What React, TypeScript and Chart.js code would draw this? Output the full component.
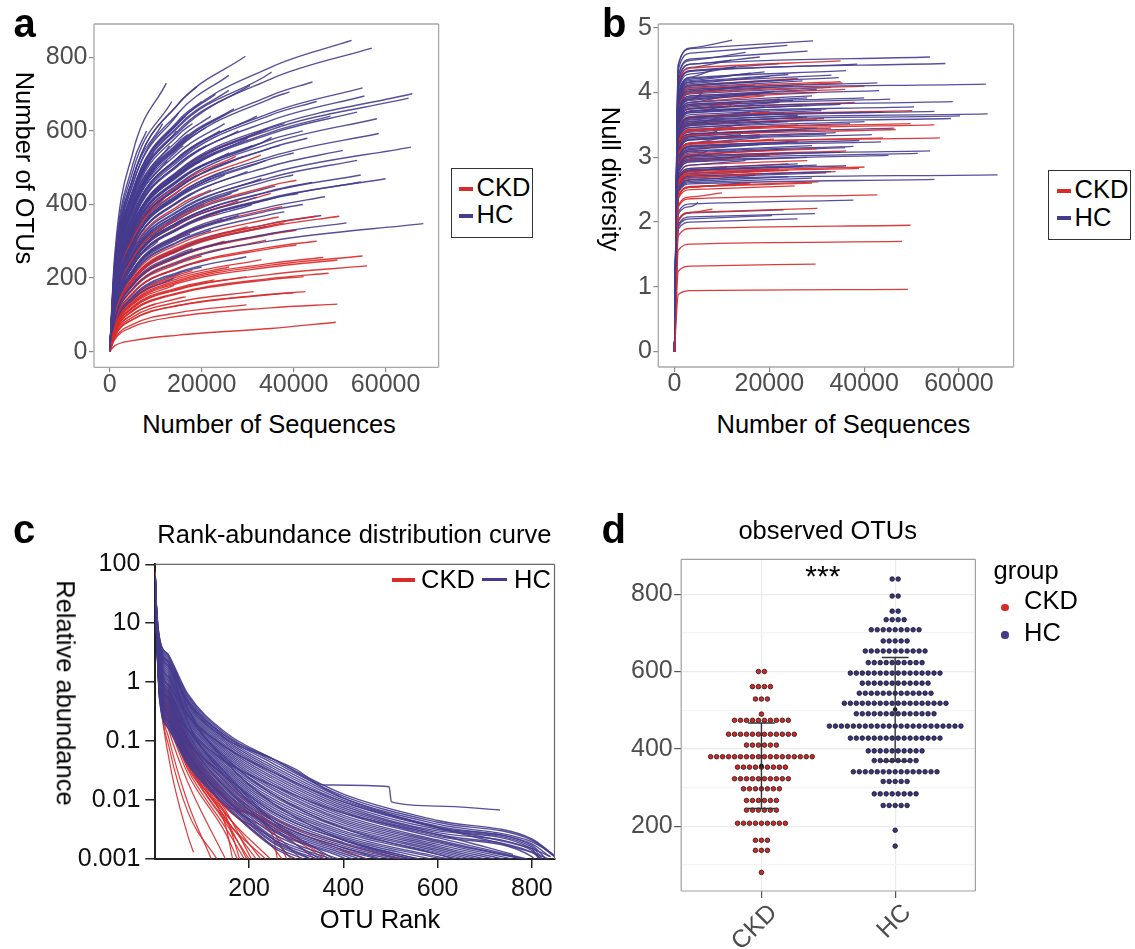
import React, { useEffect, useRef } from "react";
import { Chart, registerables } from "chart.js";

Chart.register(...registerables);

const FONT = "'Liberation Sans', Arial, Helvetica, sans-serif";
const RED = "#da2b2b";
const BLUE = "#453c8e";
const RED_LINE = "rgba(218,43,43,0.92)";
const BLUE_LINE = "rgba(69,60,142,0.9)";
const AXIS_TEXT = "#4d4d4d";

// ---------------- Panel a : rarefaction, Number of OTUs ----------------
const A_ORIGIN = [0, 0];
const A_KNOTS = [1000, 5000, 15000, 35000];
const A_X_TICKS = [0, 20000, 40000, 60000];
const A_Y_TICKS = [0, 200, 400, 600, 800];
// [end sequences, end OTUs, OTUs at knots below the end ...]
const A_HC = [
  [12300, 730, 247, 540], [29500, 803, 215, 470, 674], [52600, 846, 199, 435, 623, 773],
  [57000, 825, 191, 417, 597, 741], [44100, 733, 179, 391, 560, 696], [55000, 717, 167, 365, 523, 649],
  [65800, 701, 158, 344, 493, 611], [65000, 689, 155, 339, 485, 603], [55400, 695, 162, 353, 506, 628],
  [53800, 651, 153, 333, 477, 592], [58100, 633, 146, 319, 456, 566], [58500, 593, 137, 298, 427, 530],
  [65500, 556, 125, 273, 391, 485], [50700, 547, 130, 283, 406, 504], [53800, 520, 122, 266, 381, 473],
  [54600, 480, 112, 245, 351, 435], [60000, 470, 108, 235, 337, 418], [54600, 461, 104, 232, 334, 416],
  [46800, 421, 102, 222, 318, 394], [68200, 348, 78, 170, 243, 301], [51500, 350, 83, 181, 259, 321],
  [39900, 480, 120, 262, 375, 466], [35200, 583, 150, 328, 469, 581], [35200, 760, 196, 427, 611, 758],
  [25900, 751, 208, 454, 650], [39100, 706, 177, 387, 554, 688], [30500, 724, 193, 421, 602],
  [25900, 710, 197, 429, 615], [20000, 680, 201, 439, 629], [22000, 640, 185, 403, 577],
  [18000, 620, 189, 412, 590], [27000, 660, 181, 395, 566], [32000, 640, 168, 368, 527],
  [24000, 600, 169, 370, 529], [16000, 560, 176, 384, 550], [30000, 580, 155, 338, 484],
  [38000, 620, 157, 342, 490, 608], [42000, 600, 148, 324, 464, 576], [20000, 520, 154, 336, 481],
  [26000, 540, 149, 326, 467], [34000, 520, 135, 294, 422], [14000, 480, 157, 342],
  [22000, 470, 136, 296, 424], [30000, 490, 131, 286, 409], [40000, 540, 135, 295, 422, 524],
  [18000, 430, 131, 286, 409], [28000, 440, 120, 261, 374], [36000, 450, 115, 252, 360, 447],
  [44000, 460, 113, 246, 352, 437], [12000, 420, 143, 313], [24000, 400, 113, 246, 353],
  [32000, 420, 111, 241, 346], [42000, 400, 99, 216, 309, 384], [16000, 360, 113, 247, 354],
  [28000, 370, 101, 219, 314], [38000, 380, 96, 210, 300, 373], [46000, 370, 90, 196, 280, 348],
  [22000, 330, 95, 208, 298], [34000, 340, 88, 193, 276], [29700, 258, 69, 151, 216],
  [18000, 280, 85, 186, 266], [26000, 300, 83, 181, 260], [10000, 500, 180, 394],
  [8000, 600, 233, 508], [15000, 650, 208, 454], [45000, 680, 166, 361, 518, 643],
  [40000, 330, 83, 180, 258, 320], [20000, 230, 68, 148, 213], [14000, 200, 65, 142],
  [9000, 380, 142, 310], [11000, 450, 158, 344], [6000, 300, 128, 280],
  [17000, 500, 155, 337, 483], [21000, 560, 164, 357, 511], [25000, 480, 134, 293, 419],
  [13000, 560, 187, 407], [9500, 540, 198, 432], [11500, 620, 214, 468], [13500, 680, 224, 489],
  [19000, 720, 216, 471, 675], [23000, 700, 200, 436, 624], [17000, 590, 182, 398, 570],
  [21000, 610, 178, 389, 557], [25000, 620, 173, 378, 541], [28000, 600, 163, 356, 510],
  [31000, 560, 149, 324, 464], [19000, 480, 144, 314, 450], [23000, 540, 154, 336, 482],
  [27000, 500, 137, 299, 429], [33000, 470, 123, 268, 384], [15500, 440, 139, 304, 436],
  [20500, 400, 118, 257, 367], [26500, 430, 118, 258, 370], [31000, 400, 106, 232, 332],
  [13000, 350, 117, 255], [17500, 320, 98, 214, 307], [24500, 360, 101, 221, 316],
  [36500, 420, 107, 234, 335, 416], [10500, 300, 107, 233], [15000, 260, 83, 182],
  [21500, 250, 73, 158, 227], [7000, 450, 183, 398], [5500, 380, 168, 367],
  [12500, 520, 175, 383], [16500, 640, 199, 435, 623], [14500, 600, 194, 423],
  [22500, 520, 149, 326, 466], [29000, 530, 143, 312, 446], [37000, 560, 143, 311, 445, 553],
  [43000, 580, 143, 311, 446, 554], [48000, 640, 154, 335, 480, 596], [41000, 430, 107, 233, 334, 415],
  [33000, 600, 157, 342, 490], [26000, 650, 180, 393, 562], [18500, 560, 169, 369, 529],
  [8500, 420, 160, 348],
];
const A_CKD = [
  [49150, 80, 15, 30, 45, 63], [49540, 129, 31, 67, 96, 119], [55980, 233, 54, 118, 169, 210],
  [54980, 260, 61, 132, 190, 235], [47600, 213, 51, 112, 160, 199], [42560, 163, 40, 88, 126, 156],
  [39850, 160, 40, 87, 125, 155], [42170, 204, 50, 110, 158, 196], [49540, 249, 59, 130, 186, 230],
  [46430, 256, 62, 135, 194, 240], [49930, 368, 88, 191, 274, 340], [44890, 368, 90, 196, 280, 348],
  [40610, 330, 82, 179, 257, 319], [40610, 290, 72, 158, 226, 280], [40610, 466, 116, 253, 363, 451],
  [34410, 606, 157, 342, 490], [32850, 534, 140, 305, 437], [29740, 127, 34, 74, 106],
  [31300, 163, 43, 94, 135], [29740, 204, 55, 119, 171], [27400, 531, 145, 317, 453],
  [16540, 149, 46, 101, 145], [22760, 195, 56, 122, 174], [37500, 394, 100, 218, 312, 388],
  [34000, 303, 79, 172, 246], [36740, 366, 93, 204, 292, 362], [20000, 260, 77, 168, 240],
  [25000, 300, 84, 183, 262], [30000, 340, 91, 198, 284], [18000, 220, 67, 146, 209],
  [28000, 410, 111, 243, 348], [35000, 430, 111, 242, 346], [24000, 380, 107, 234, 335],
  [14000, 180, 59, 128], [12000, 150, 51, 112], [26000, 230, 64, 139, 199],
  [33000, 250, 65, 143, 204], [38000, 350, 89, 193, 277, 343], [10000, 130, 47, 102],
  [22000, 440, 127, 277, 397], [16000, 280, 88, 192, 275], [45000, 300, 73, 159, 228, 284],
];

// ---------------- Panel b : Null diversity ----------------
const B_ORIGIN = [0, 0];
const B_KNOTS = [800, 3500];
const B_Y_TICKS = [0, 1, 2, 3, 4, 5];
// [end sequences, end diversity, diversity at 800, diversity at 3500]
const B_HC = [
  [12170, 4.81, 4.43, 4.69], [29220, 4.8, 4.42, 4.68], [23800, 4.73, 4.35, 4.61], [28060, 4.64, 4.27, 4.52],
  [53880, 4.55, 4.19, 4.44], [57130, 4.45, 4.09, 4.34], [38530, 4.44, 4.08, 4.33], [36200, 4.34, 3.99, 4.23],
  [65660, 4.13, 3.8, 4.03], [42790, 4.15, 3.82, 4.05], [43180, 4.03, 3.71, 3.93], [66050, 3.67, 3.38, 3.58],
  [58680, 3.86, 3.55, 3.76], [60230, 3.64, 3.35, 3.55], [54810, 3.71, 3.41, 3.62], [50540, 3.78, 3.48, 3.69],
  [58300, 3.6, 3.31, 3.51], [45500, 3.9, 3.59, 3.8], [51320, 3.06, 2.82, 2.98], [53880, 3.1, 2.85, 3.02],
  [45120, 3.03, 2.79, 2.95], [68140, 2.73, 2.51, 2.66], [54810, 2.66, 2.45, 2.59], [37750, 2.34, 2.15, 2.28],
  [23020, 2.19, 2.01, 2.14], [29610, 2.13, 1.96, 2.08], [25970, 2.05, 1.89, 2.0], [20540, 2.1, 1.93, 2.05],
  [46280, 3.45, 3.17, 3.36], [41630, 3.35, 3.08, 3.27], [43570, 3.24, 2.98, 3.16], [37750, 3.17, 2.92, 3.09],
  [36200, 2.87, 2.64, 2.8], [40080, 3.55, 3.27, 3.46], [33100, 4.27, 3.93, 4.16], [34650, 4.23, 3.89, 4.12],
  [20000, 4.25, 3.91, 4.14], [25000, 4.2, 3.86, 4.1], [15000, 4.1, 3.77, 4.0], [30000, 4.05, 3.73, 3.95],
  [18000, 3.98, 3.66, 3.88], [28000, 3.92, 3.61, 3.82], [22000, 3.85, 3.54, 3.75], [12000, 3.8, 3.5, 3.71],
  [32000, 3.75, 3.45, 3.66], [16000, 3.7, 3.4, 3.61], [26000, 3.65, 3.36, 3.56], [24000, 3.55, 3.27, 3.46],
  [14000, 3.5, 3.22, 3.41], [30000, 3.45, 3.17, 3.36], [20000, 3.4, 3.13, 3.32], [34000, 3.38, 3.11, 3.3],
  [10000, 3.3, 3.04, 3.22], [26000, 3.25, 2.99, 3.17], [18000, 3.2, 2.94, 3.12], [36000, 3.15, 2.9, 3.07],
  [22000, 3.12, 2.87, 3.04], [28000, 3.0, 2.76, 2.93], [15000, 2.95, 2.71, 2.88], [26000, 2.9, 2.67, 2.83],
  [30000, 2.88, 2.65, 2.81], [20000, 2.8, 2.58, 2.73], [32000, 2.76, 2.54, 2.69], [24000, 2.7, 2.48, 2.63],
  [14000, 2.6, 2.39, 2.54], [8000, 4.35, 4.0, 4.24], [12000, 4.5, 4.14, 4.39], [6000, 4.0, 3.68, 3.9],
  [9000, 3.6, 3.31, 3.51], [7000, 3.1, 2.85, 3.02], [5000, 2.3, 2.12, 2.24], [11000, 2.85, 2.62, 2.78],
  [16000, 4.3, 3.96, 4.19], [20000, 4.0, 3.68, 3.9], [27000, 3.8, 3.5, 3.71], [14000, 3.35, 3.08, 3.27],
  [19000, 4.32, 3.97, 4.21], [24000, 4.28, 3.94, 4.17], [27000, 4.18, 3.85, 4.08], [17000, 4.12, 3.79, 4.02],
  [33000, 4.08, 3.75, 3.98], [21000, 4.02, 3.7, 3.92], [29000, 3.95, 3.63, 3.85], [25000, 3.88, 3.57, 3.78],
  [35000, 3.82, 3.51, 3.72], [19000, 3.78, 3.48, 3.69], [31000, 3.72, 3.42, 3.63], [23000, 3.68, 3.39, 3.59],
  [28000, 3.62, 3.33, 3.53], [16000, 3.58, 3.29, 3.49], [37000, 3.52, 3.24, 3.43], [21000, 3.48, 3.2, 3.39],
  [26000, 3.42, 3.15, 3.33], [32000, 3.36, 3.09, 3.28], [18000, 3.3, 3.04, 3.22], [24000, 3.22, 2.96, 3.14],
  [29000, 3.18, 2.93, 3.1], [35000, 3.08, 2.83, 3.0], [20000, 3.04, 2.8, 2.96], [27000, 2.86, 2.63, 2.79],
  [22000, 2.82, 2.59, 2.75], [33000, 2.78, 2.56, 2.71], [17000, 2.72, 2.5, 2.65], [29000, 2.68, 2.47, 2.61],
  [13000, 4.4, 4.05, 4.29], [22000, 4.45, 4.09, 4.34], [18000, 4.55, 4.19, 4.44], [15000, 4.62, 4.25, 4.5],
  [40000, 3.92, 3.61, 3.82], [44000, 3.7, 3.4, 3.61], [39000, 3.26, 3.0, 3.18], [11000, 3.95, 3.63, 3.85],
  [9000, 3.4, 3.13, 3.32], [13000, 3.1, 2.85, 3.02], [25000, 4.1, 3.77, 4.0], [30000, 3.58, 3.29, 3.49],
];
const B_CKD = [
  [49220, 0.96, 0.88, 0.94], [47980, 1.7, 1.56, 1.66], [49770, 1.95, 1.79, 1.9], [29770, 1.35, 1.24, 1.32],
  [42790, 2.42, 2.23, 2.36], [30150, 2.21, 2.03, 2.15], [30390, 2.62, 2.41, 2.55], [38910, 2.83, 2.6, 2.76],
  [40080, 2.85, 2.62, 2.78], [55970, 3.3, 3.04, 3.22], [54810, 3.5, 3.22, 3.41], [46660, 3.43, 3.16, 3.34],
  [49770, 3.52, 3.24, 3.43], [50150, 3.72, 3.42, 3.63], [25350, 2.56, 2.36, 2.5], [40080, 4.1, 3.77, 4.0],
  [35430, 4.15, 3.82, 4.05], [35040, 4.49, 4.13, 4.38], [30000, 3.13, 2.88, 3.05], [31550, 3.6, 3.31, 3.51],
  [43950, 3.3, 3.04, 3.22], [35040, 4.17, 3.84, 4.07], [22250, 3.9, 3.59, 3.8], [36200, 3.1, 2.85, 3.02],
  [18000, 2.75, 2.53, 2.68], [24000, 2.8, 2.58, 2.73], [16000, 2.6, 2.39, 2.54], [22000, 3.05, 2.81, 2.97],
  [12000, 3.2, 2.94, 3.12], [26000, 3.5, 3.22, 3.41], [14000, 3.85, 3.54, 3.75], [20000, 3.7, 3.4, 3.61],
  [10000, 2.45, 2.25, 2.39], [28000, 2.95, 2.71, 2.88], [30000, 4.0, 3.68, 3.9], [18000, 3.35, 3.08, 3.27],
  [8000, 2.2, 2.02, 2.15], [14000, 3.0, 2.76, 2.93], [27000, 3.62, 3.33, 3.53], [33000, 3.45, 3.17, 3.36],
  [21000, 3.28, 3.02, 3.2], [38000, 3.85, 3.54, 3.75], [24000, 2.9, 2.67, 2.83], [34000, 2.78, 2.56, 2.71],
  [29000, 2.6, 2.39, 2.54], [19000, 3.95, 3.63, 3.85], [36000, 4.05, 3.73, 3.95], [26000, 4.22, 3.88, 4.11],
];

// ---------------- Panel c : rank abundance ----------------
const C_KNOTS = [1, 3, 10, 30, 70, 150, 250, 400, 600, 800];
const C_X_TICKS = [200, 400, 600, 800];
const C_Y_TICKS = [0.001, 0.01, 0.1, 1, 10, 100];
// [last rank, abundance at last rank, abundance at knots below it ...]
const C_HC = [
  [850, 0.0011, 63, 22.4, 5.6, 2.8, 0.63, 0.14, 0.05, 0.0126, 0.0045, 0.0022],
  [848, 0.0011, 62.1, 21.9, 5.28, 2.61, 0.59, 0.131, 0.046, 0.0117, 0.0042, 0.0021],
  [845, 0.0012, 61.3, 21.5, 4.98, 2.44, 0.55, 0.122, 0.042, 0.0108, 0.0039, 0.00196],
  [838, 0.0011, 60.4, 21.1, 4.68, 2.26, 0.51, 0.114, 0.038, 0.01, 0.0036, 0.0018],
  [830, 0.001, 59.6, 20.7, 4.4, 2.1, 0.48, 0.106, 0.035, 0.0093, 0.0034, 0.0017],
  [822, 0.001, 58.7, 20.2, 4.15, 1.96, 0.447, 0.0986, 0.0323, 0.0086, 0.0032, 0.0016],
  [815, 0.001, 57.9, 19.8, 3.91, 1.83, 0.417, 0.0917, 0.0299, 0.008, 0.003, 0.0015],
  [818, 0.001, 56.9, 19.4, 3.7, 1.7, 0.387, 0.085, 0.0273, 0.0074, 0.0028, 0.0014],
  [820, 0.001, 56, 19, 3.5, 1.58, 0.36, 0.079, 0.025, 0.0069, 0.0026, 0.0013],
  [805, 0.001, 55.3, 18.6, 3.28, 1.47, 0.337, 0.0737, 0.023, 0.0064, 0.00245, 0.0011],
  [790, 0.001, 54.6, 18.3, 3.07, 1.37, 0.316, 0.0688, 0.0211, 0.006, 0.0023],
  [785, 0.001, 53.8, 17.9, 2.88, 1.28, 0.295, 0.0642, 0.0194, 0.0055, 0.0021],
  [780, 0.001, 53, 17.6, 2.7, 1.19, 0.275, 0.06, 0.0178, 0.0051, 0.002],
  [760, 0.001, 52.3, 17.2, 2.55, 1.1, 0.257, 0.0556, 0.0163, 0.0047, 0.0019],
  [740, 0.001, 51.6, 16.9, 2.41, 1.03, 0.24, 0.0516, 0.015, 0.0044, 0.00177],
  [720, 0.001, 50.8, 16.5, 2.25, 0.96, 0.224, 0.0482, 0.0137, 0.0041, 0.00165],
  [700, 0.001, 50, 16.2, 2.1, 0.89, 0.21, 0.045, 0.0126, 0.0038, 0.00155],
  [685, 0.001, 49.3, 15.9, 1.99, 0.83, 0.195, 0.0417, 0.0116, 0.0035, 0.00145],
  [670, 0.001, 48.7, 15.6, 1.89, 0.77, 0.182, 0.0387, 0.0106, 0.0033, 0.00136],
  [655, 0.001, 47.8, 15.3, 1.78, 0.72, 0.17, 0.036, 0.0097, 0.003, 0.00128],
  [640, 0.001, 47, 15, 1.68, 0.67, 0.158, 0.0335, 0.0089, 0.0028, 0.0012],
  [625, 0.001, 46.5, 14.7, 1.58, 0.62, 0.148, 0.0312, 0.0082, 0.0026, 0.0011],
  [610, 0.001, 46, 14.4, 1.49, 0.58, 0.138, 0.029, 0.0075, 0.0024, 0.00104],
  [585, 0.001, 45.3, 14.1, 1.4, 0.54, 0.129, 0.027, 0.0069, 0.00225],
  [560, 0.001, 44.7, 13.8, 1.32, 0.5, 0.12, 0.025, 0.0063, 0.0021],
  [545, 0.001, 44, 13.5, 1.24, 0.467, 0.112, 0.0234, 0.0058, 0.0019],
  [530, 0.001, 43.4, 13.3, 1.17, 0.434, 0.105, 0.0218, 0.0053, 0.0018],
  [515, 0.001, 42.7, 13, 1.1, 0.405, 0.098, 0.0203, 0.0049, 0.00167],
  [500, 0.001, 42, 12.7, 1.03, 0.376, 0.091, 0.0188, 0.0045, 0.00155],
  [475, 0.001, 41.5, 12.4, 0.975, 0.351, 0.085, 0.0175, 0.0041, 0.00143],
  [450, 0.001, 41, 12.2, 0.92, 0.326, 0.079, 0.0163, 0.0038, 0.00133],
  [435, 0.001, 40.5, 11.9, 0.865, 0.303, 0.074, 0.0151, 0.0035, 0.00124],
  [420, 0.001, 40, 11.7, 0.81, 0.28, 0.069, 0.014, 0.0032, 0.00115],
  [405, 0.001, 39.3, 11.5, 0.765, 0.262, 0.0645, 0.0131, 0.003, 0.00105],
  [390, 0.001, 38.7, 11.3, 0.72, 0.244, 0.06, 0.0122, 0.0027],
  [375, 0.001, 38.1, 11, 0.68, 0.227, 0.056, 0.0114, 0.0024],
  [360, 0.001, 37.6, 10.8, 0.64, 0.21, 0.052, 0.0106, 0.0022],
  [345, 0.001, 37, 10.6, 0.605, 0.196, 0.049, 0.0099, 0.002],
  [330, 0.001, 36.5, 10.4, 0.57, 0.183, 0.0457, 0.0092, 0.0019],
  [315, 0.001, 36, 10.2, 0.535, 0.17, 0.043, 0.0085, 0.0017],
  [300, 0.001, 35.5, 10, 0.5, 0.158, 0.04, 0.0079, 0.0016],
  [480, 0.001, 59.6, 20.7, 4.4, 2.1, 0.21, 0.025, 0.0045, 0.00155],
  [760, 0.0012, 42, 12.7, 1.03, 0.376, 0.158, 0.045, 0.0178, 0.006, 0.0026],
  [840, 0.0011, 50, 16.2, 2.1, 0.89, 0.275, 0.079, 0.0299, 0.0093, 0.0034, 0.0015],
  [560, 0.001, 37.6, 10.8, 0.64, 0.21, 0.091, 0.025, 0.0063, 0.0021],
  [540, 0.001, 63, 22.4, 5.6, 2.8, 0.36, 0.045, 0.0089, 0.0021],
  [380, 0.001, 47, 15, 1.68, 0.67, 0.158, 0.029, 0.0045],
  [640, 0.001, 53, 17.6, 2.7, 1.19, 0.275, 0.0516, 0.0126, 0.0033, 0.0012],
  [330, 0.001, 40, 11.7, 0.81, 0.28, 0.06, 0.0106, 0.0022],
  [835, 0.001, 57.9, 19.8, 3.91, 1.83, 0.48, 0.122, 0.05, 0.0108, 0.0034, 0.0013],
  [350, 0.001, 44.7, 13.8, 1.32, 0.5, 0.105, 0.0163, 0.0032],
];
// one HC sample with a long flat tail: [rank, abundance]
const C_HC_TAIL = [
  [1, 59.6], [3, 20.7], [10, 4.4], [30, 2.1], [70, 0.45], [150, 0.11], [250, 0.05], [300, 0.033],
  [358, 0.018], [497, 0.0168], [502, 0.0093], [600, 0.0079], [732, 0.0068],
];
const C_CKD = [
  [82, 0.0013, 75, 10, 0.8, 0.05, 0.0025],
  [132, 0.001, 63, 8, 0.63, 0.08, 0.0063],
  [120, 0.001, 58, 9, 0.7, 0.11, 0.009],
  [150, 0.001, 44, 10.5, 0.7, 0.15, 0.02],
  [175, 0.001, 40, 10, 0.63, 0.178, 0.028, 0.00275],
  [190, 0.001, 42.4, 10.7, 0.72, 0.207, 0.033, 0.0034],
  [165, 0.001, 43.7, 11.1, 0.77, 0.224, 0.0357, 0.0037],
  [200, 0.001, 45.1, 11.5, 0.83, 0.242, 0.0385, 0.0041],
  [195, 0.001, 47, 12, 0.9, 0.27, 0.043, 0.0048],
  [235, 0.001, 46.5, 11.9, 0.89, 0.261, 0.0416, 0.0045],
  [215, 0.001, 48, 12.3, 0.955, 0.282, 0.045, 0.005],
  [180, 0.001, 49.5, 12.7, 1.02, 0.305, 0.0487, 0.0055],
  [245, 0.001, 50, 12.8, 0.98, 0.3, 0.05, 0.0058],
  [225, 0.001, 51, 13.2, 1.1, 0.33, 0.0527, 0.0061],
  [205, 0.001, 52.6, 13.6, 1.18, 0.357, 0.057, 0.0067],
  [290, 0.001, 54.3, 14.1, 1.26, 0.385, 0.0617, 0.0074, 0.0022],
  [270, 0.001, 55, 14.3, 1.3, 0.4, 0.064, 0.0078, 0.0016],
  [260, 0.001, 56, 14.6, 1.35, 0.415, 0.0667, 0.0081, 0.0025],
  [310, 0.001, 57.8, 15.1, 1.45, 0.449, 0.072, 0.009, 0.0028],
  [280, 0.001, 59.6, 15.6, 1.55, 0.485, 0.078, 0.01, 0.0031],
  [340, 0.001, 61.5, 16.2, 1.66, 0.524, 0.084, 0.011, 0.0035],
  [360, 0.001, 63, 16.8, 1.75, 0.56, 0.09, 0.012, 0.0038],
  [370, 0.001, 65.5, 17.4, 1.9, 0.61, 0.099, 0.0134, 0.004],
  [450, 0.001, 69.7, 18.6, 2.19, 0.713, 0.115, 0.0164, 0.0045, 0.0014],
  [520, 0.001, 74, 20, 2.5, 0.83, 0.135, 0.02, 0.005, 0.0018],
];

// ---------------- Panel d : observed OTUs dot plot ----------------
const D_GROUPS = ["CKD", "HC"];
const D_CKD_BINS = [600, 561, 529, 490, 474, 438, 410, 380, 353, 323, 297, 267, 242, 208, 164, 138, 81];
const D_CKD_COUNTS = [2, 4, 3, 1, 10, 12, 6, 18, 9, 10, 7, 6, 6, 9, 3, 3, 1];
const D_HC_BINS = [839, 795, 756, 734, 708, 679, 653, 623, 596, 570, 544, 518, 491, 459, 428, 395, 370, 341, 316, 284, 254, 190, 149];
const D_HC_COUNTS = [2, 2, 2, 4, 9, 5, 11, 10, 16, 12, 13, 18, 14, 23, 16, 10, 8, 15, 5, 8, 5, 1, 1];
const D_Y_TICKS = [100, 200, 300, 400, 500, 600, 700, 800];

// ---------------- helpers ----------------
type Pt = { x: number; y: number };

function knotCurve(row: number[], knots: number[], origin?: number[]): Pt[] {
  const pts: Pt[] = origin ? [{ x: origin[0], y: origin[1] }] : [];
  for (let i = 2; i < row.length; i++) pts.push({ x: knots[i - 2], y: row[i] });
  pts.push({ x: row[0], y: row[1] });
  return pts;
}

function lineDs(data: Pt[], color: string, width: number, order: number) {
  return {
    data,
    borderColor: color,
    borderWidth: width,
    pointRadius: 0,
    fill: false,
    cubicInterpolationMode: "monotone",
    order,
  };
}

// spread the CKD curves evenly among the HC curves so neither group sits wholly on top
function mixGroups(hc: Pt[][], ckd: Pt[][], width: number) {
  const out: any[] = [];
  let j = 0;
  let k = 0;
  for (let i = 0; i < hc.length; i++) {
    while (j < ckd.length && j / ckd.length <= i / hc.length) {
      out.push(lineDs(ckd[j], RED_LINE, width, k++));
      j++;
    }
    out.push(lineDs(hc[i], BLUE_LINE, width, k++));
  }
  while (j < ckd.length) out.push(lineDs(ckd[j++], RED_LINE, width, k++));
  return out;
}

const framePlugin = {
  id: "frame",
  afterDatasetsDraw(chart: any, _a: any, opts: any) {
    if (!opts || !opts.color) return;
    const { ctx, chartArea } = chart;
    const { left, top, right, bottom } = chartArea;
    const sides: string = opts.sides || "tlbr";
    ctx.save();
    ctx.strokeStyle = opts.color;
    ctx.lineWidth = opts.width || 1;
    ctx.beginPath();
    if (sides.includes("t")) { ctx.moveTo(left, top); ctx.lineTo(right, top); }
    if (sides.includes("r")) { ctx.moveTo(right, top); ctx.lineTo(right, bottom); }
    if (sides.includes("b")) { ctx.moveTo(left, bottom); ctx.lineTo(right, bottom); }
    if (sides.includes("l")) { ctx.moveTo(left, top); ctx.lineTo(left, bottom); }
    ctx.stroke();
    ctx.restore();
  },
};

const tickFont = (size: number) => ({ family: FONT, size, lineHeight: 1 });

function fixedTicks(list: number[]) {
  return (scale: any) => {
    scale.ticks = list.map((value) => ({ value }));
  };
}

function baseOptions(pad: any, frame: any) {
  return {
    responsive: false,
    animation: false,
    events: [],
    layout: { padding: pad },
    plugins: { legend: { display: false }, tooltip: { enabled: false }, frame },
  };
}

// ---------------- chart configs ----------------
function configA() {
  const hc = A_HC.map((r) => knotCurve(r, A_KNOTS, A_ORIGIN));
  const ckd = A_CKD.map((r) => knotCurve(r, A_KNOTS, A_ORIGIN));
  return {
    type: "line",
    data: { datasets: mixGroups(hc, ckd, 1.4) },
    plugins: [framePlugin],
    options: {
      ...baseOptions({ left: 0, top: 24, right: 6.4, bottom: 0 }, { color: "#a8a8a8", width: 1.3 }),
      scales: {
        x: {
          type: "linear", min: -3413, max: 71520,
          afterBuildTicks: fixedTicks(A_X_TICKS),
          afterFit: (s: any) => { s.height = 42.7; },
          border: { display: false },
          grid: { drawOnChartArea: false, tickLength: 5, color: "#8a8a8a", lineWidth: 1.2 },
          ticks: { font: tickFont(25), color: AXIS_TEXT, padding: 0, maxRotation: 0, autoSkip: false, callback: (v: any) => String(v) },
        },
        y: {
          type: "linear", min: -42.6, max: 890.6,
          afterBuildTicks: fixedTicks(A_Y_TICKS),
          afterFit: (s: any) => { s.width = 94; },
          border: { display: false },
          grid: { drawOnChartArea: false, tickLength: 5, color: "#8a8a8a", lineWidth: 1.2 },
          ticks: { font: tickFont(25), color: AXIS_TEXT, padding: 1.5, autoSkip: false, callback: (v: any) => String(v) },
        },
      },
    },
  };
}

function configB() {
  const hc = B_HC.map((r) => knotCurve(r, B_KNOTS, B_ORIGIN));
  const ckd = B_CKD.map((r) => knotCurve(r, B_KNOTS, B_ORIGIN));
  return {
    type: "line",
    data: { datasets: mixGroups(hc, ckd, 1.3) },
    plugins: [framePlugin],
    options: {
      ...baseOptions({ left: 0, top: 24, right: 6.4, bottom: 0 }, { color: "#a8a8a8", width: 1.3 }),
      scales: {
        x: {
          type: "linear", min: -3413, max: 71520,
          afterBuildTicks: fixedTicks(A_X_TICKS),
          afterFit: (s: any) => { s.height = 43; },
          border: { display: false },
          grid: { drawOnChartArea: false, tickLength: 5, color: "#8a8a8a", lineWidth: 1.2 },
          ticks: { font: tickFont(25), color: AXIS_TEXT, padding: 0, maxRotation: 0, autoSkip: false, callback: (v: any) => String(v) },
        },
        y: {
          type: "linear", min: -0.24, max: 5.06,
          afterBuildTicks: fixedTicks(B_Y_TICKS),
          afterFit: (s: any) => { s.width = 98.3; },
          border: { display: false },
          grid: { drawOnChartArea: false, tickLength: 5, color: "#8a8a8a", lineWidth: 1.2 },
          ticks: { font: tickFont(25), color: AXIS_TEXT, padding: 1.5, autoSkip: false, callback: (v: any) => String(v) },
        },
      },
    },
  };
}

function configC() {
  const datasets: any[] = [];
  let k = 0;
  C_HC.forEach((r, i) => {
    datasets.push(lineDs(knotCurve(r, C_KNOTS), BLUE_LINE, 1.4, k++));
    if (i === 20) datasets.push(lineDs(C_HC_TAIL.map(([x, y]) => ({ x, y })), BLUE_LINE, 1.4, k++));
  });
  C_CKD.forEach((r) => datasets.push(lineDs(knotCurve(r, C_KNOTS), RED_LINE, 1.2, k++)));
  return {
    type: "line",
    data: { datasets },
    plugins: [framePlugin],
    options: {
      ...baseOptions({ left: 0, top: 64.3, right: 15.5, bottom: 0 }, { color: "#6a6a6a", width: 1.2, sides: "tr" }),
      scales: {
        x: {
          type: "linear", min: 1, max: 848,
          afterBuildTicks: fixedTicks(C_X_TICKS),
          afterFit: (s: any) => { s.height = 90; },
          border: { display: true, color: "#222", width: 2 },
          grid: { drawOnChartArea: false, tickLength: 9, color: "#222", lineWidth: 1.5 },
          ticks: { font: tickFont(25), color: "#111", padding: 9, maxRotation: 0, autoSkip: false, callback: (v: any) => String(v) },
        },
        y: {
          type: "logarithmic", min: 0.001, max: 100,
          afterBuildTicks: fixedTicks(C_Y_TICKS),
          afterFit: (s: any) => { s.width = 155.3; },
          border: { display: true, color: "#222", width: 2 },
          grid: { drawOnChartArea: false, tickLength: 10, color: "#222", lineWidth: 1.5 },
          ticks: { font: tickFont(25), color: "#111", padding: 5, autoSkip: false, callback: (v: any) => String(v) },
        },
      },
    },
  };
}

const DOT_STEP = 0.0447;
const CAP_HALF = 0.1;

function dotsFor(g: number, bins: number[], counts: number[]): Pt[] {
  const pts: Pt[] = [];
  bins.forEach((b, r) => {
    const n = counts[r];
    for (let i = 0; i < n; i++) pts.push({ x: g + (i - (n - 1) / 2) * DOT_STEP, y: b });
  });
  return pts;
}

function meanSd(bins: number[], counts: number[]) {
  let n = 0, s = 0;
  bins.forEach((b, i) => { n += counts[i]; s += b * counts[i]; });
  const m = s / n;
  let v = 0;
  bins.forEach((b, i) => { v += counts[i] * (b - m) * (b - m); });
  return { m, sd: Math.sqrt(v / (n - 1)) };
}

function errorBarSets(g: number, bins: number[], counts: number[], order: number) {
  const { m, sd } = meanSd(bins, counts);
  const seg = (data: Pt[]) => ({
    data, showLine: true, borderColor: "#333", borderWidth: 1.4, pointRadius: 0, order,
  });
  return [
    seg([{ x: g, y: m - sd }, { x: g, y: m + sd }]),
    seg([{ x: g - CAP_HALF, y: m + sd }, { x: g + CAP_HALF, y: m + sd }]),
    seg([{ x: g - CAP_HALF, y: m - sd }, { x: g + CAP_HALF, y: m - sd }]),
    { data: [{ x: g, y: m }], pointRadius: 2.2, pointBackgroundColor: "#111", pointBorderWidth: 0, order },
  ];
}

function configD() {
  const minor = (v: number) => v % 200 !== 0;
  return {
    type: "scatter",
    data: {
      datasets: [
        ...errorBarSets(1, D_CKD_BINS, D_CKD_COUNTS, 0),
        ...errorBarSets(2, D_HC_BINS, D_HC_COUNTS, 0),
        { data: dotsFor(1, D_CKD_BINS, D_CKD_COUNTS), pointRadius: 2.3, pointBackgroundColor: "#cf2a2a", pointBorderColor: "#2a1515", pointBorderWidth: 0.8, order: 2 },
        { data: dotsFor(2, D_HC_BINS, D_HC_COUNTS), pointRadius: 2.3, pointBackgroundColor: "#3b357a", pointBorderColor: "#15142a", pointBorderWidth: 0.8, order: 2 },
      ],
    },
    plugins: [framePlugin],
    options: {
      ...baseOptions({ left: 0, top: 59.3, right: 24.6, bottom: 0 }, { color: "#a0a0a0", width: 1.2 }),
      scales: {
        x: {
          type: "linear", min: 0.4, max: 2.6,
          afterBuildTicks: fixedTicks([1, 2]),
          afterFit: (s: any) => { s.height = 58; },
          border: { display: false },
          grid: { color: "#ebebeb", lineWidth: 1.2, tickLength: 7, tickColor: "#555", tickWidth: 1.2 },
          ticks: { font: tickFont(25), color: AXIS_TEXT, padding: 2, labelOffset: 12, minRotation: 45, maxRotation: 45, autoSkip: false, callback: (v: any) => D_GROUPS[Math.round(v) - 1] },
        },
        y: {
          type: "linear", min: 33, max: 890,
          afterBuildTicks: fixedTicks(D_Y_TICKS),
          afterFit: (s: any) => { s.width = 81.2; },
          border: { display: false },
          grid: {
            color: (c: any) => (minor(c.tick.value) ? "#f4f4f4" : "#ebebeb"),
            lineWidth: 1.2,
            tickLength: 7,
            tickColor: (c: any) => (minor(c.tick.value) ? "rgba(0,0,0,0)" : "#555"),
            tickWidth: 1.2,
          },
          ticks: { font: tickFont(25), color: AXIS_TEXT, padding: 1.5, autoSkip: false, callback: (v: any) => (minor(v) ? "" : String(v)) },
        },
      },
    },
  };
}

// ---------------- components ----------------
function ChartCanvas({ left, top, width, height, make }: { left: number; top: number; width: number; height: number; make: () => any }) {
  const ref = useRef<HTMLCanvasElement | null>(null);
  useEffect(() => {
    if (!ref.current) return;
    const chart = new Chart(ref.current, make() as any);
    return () => chart.destroy();
  }, []);
  return <canvas ref={ref} width={width} height={height} style={{ position: "absolute", left, top, width, height }} />;
}

const ASC = 0.8465; // baseline offset in a line box of height 1em

function Txt({ x, y, size = 25.5, bold = false, color = "#000", align = "left", children }: any) {
  const tx = align === "center" ? "translateX(-50%)" : align === "right" ? "translateX(-100%)" : "none";
  return (
    <div style={{ position: "absolute", left: x, top: y - ASC * size, fontFamily: FONT, fontSize: size, fontWeight: bold ? 700 : 400, color, lineHeight: 1, whiteSpace: "nowrap", transform: tx }}>
      {children}
    </div>
  );
}

function VTxt({ cx, cy, size = 25.5, children }: any) {
  return (
    <div style={{ position: "absolute", left: cx, top: cy, fontFamily: FONT, fontSize: size, color: "#000", lineHeight: 1, whiteSpace: "nowrap", transform: "translate(-50%,-50%) rotate(90deg)" }}>
      {children}
    </div>
  );
}

function Swatch({ x, y, w, h, color }: any) {
  return <div style={{ position: "absolute", left: x, top: y - h / 2, width: w, height: h, background: color }} />;
}

function Dot({ cx, cy, r, color }: any) {
  return <div style={{ position: "absolute", left: cx - r, top: cy - r, width: 2 * r, height: 2 * r, borderRadius: "50%", background: color }} />;
}

export default function App() {
  return (
    <div style={{ position: "fixed", left: 0, top: 0, width: 1135, height: 949, background: "#fff", overflow: "hidden" }}>
      <ChartCanvas left={0} top={0} width={445} height={410} make={configA} />
      <ChartCanvas left={560} top={0} width={460} height={410} make={configB} />
      <ChartCanvas left={0} top={500} width={570} height={449} make={configC} />
      <ChartCanvas left={600} top={500} width={400} height={449} make={configD} />

      {/* panel letters */}
      <Txt x={13.5} y={37} size={40} bold>a</Txt>
      <Txt x={602} y={37} size={40} bold>b</Txt>
      <Txt x={13} y={543} size={40} bold>c</Txt>
      <Txt x={601.5} y={543} size={40} bold>d</Txt>

      {/* panel a texts */}
      <Txt x={269} y={433.3} align="center">Number of Sequences</Txt>
      <VTxt cx={24} cy={168.3}>Number of OTUs</VTxt>
      <div style={{ position: "absolute", left: 450.7, top: 168.3, width: 82.2, height: 69.7, border: "1.5px solid #333", boxSizing: "border-box" }} />
      <Swatch x={459} y={189.3} w={14} h={4} color={RED} />
      <Swatch x={459} y={216} w={14} h={4} color={BLUE} />
      <Txt x={476.5} y={196.7}>CKD</Txt>
      <Txt x={476.5} y={224}>HC</Txt>

      {/* panel b texts */}
      <Txt x={843.4} y={433.3} align="center">Number of Sequences</Txt>
      <VTxt cx={609.5} cy={179}>Null diversity</VTxt>
      <div style={{ position: "absolute", left: 1048, top: 170, width: 83, height: 70, border: "1.5px solid #333", boxSizing: "border-box" }} />
      <Swatch x={1057} y={191} w={13.5} h={4} color={RED} />
      <Swatch x={1057} y={218.3} w={13.5} h={4} color={BLUE} />
      <Txt x={1074.5} y={199}>CKD</Txt>
      <Txt x={1074.5} y={226.7}>HC</Txt>

      {/* panel c texts */}
      <Txt x={354.4} y={543.3} align="center">Rank-abundance distribution curve</Txt>
      <Txt x={380} y={928.3} align="center">OTU Rank</Txt>
      <VTxt cx={65} cy={693.3}>Relative abundance</VTxt>
      <Swatch x={391.6} y={580} w={23.5} h={3.2} color={RED} />
      <Txt x={421} y={588.3}>CKD</Txt>
      <Swatch x={481.7} y={579.3} w={25} h={3.2} color={BLUE} />
      <Txt x={514} y={588.3}>HC</Txt>

      {/* panel d texts */}
      <Txt x={827.7} y={540} align="center">observed OTUs</Txt>
      <Txt x={822.8} y={586.6} size={30} align="center">***</Txt>
      <Txt x={993.5} y={580}>group</Txt>
      <Dot cx={1005} cy={607.3} r={3.6} color={RED} />
      <Dot cx={1005} cy={635} r={3.6} color={BLUE} />
      <Txt x={1024} y={610}>CKD</Txt>
      <Txt x={1024} y={641.7}>HC</Txt>
    </div>
  );
}
